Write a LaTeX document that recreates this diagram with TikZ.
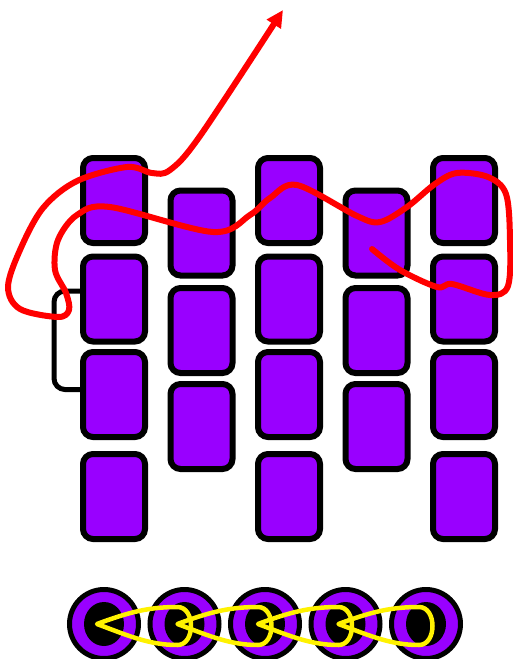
\documentclass[tikz,border=0pt]{standalone}
\usetikzlibrary{positioning, arrows.meta, calc}

\definecolor{boxpurple}{RGB}{153,0,255}

\begin{document}
\begin{tikzpicture}[
  x=1pt, y=-1pt,
  cell/.style={rectangle, draw=black, line width=6pt, rounded corners=10pt, fill=boxpurple, minimum width=62pt, minimum height=85pt, inner sep=0pt},
  ring/.style={circle, draw=black, line width=5pt, fill=boxpurple, minimum size=69pt, inner sep=0pt},
  bracket/.style={draw=black, line width=5pt, rounded corners=11pt},
  loopline/.style={draw=yellow, line width=4.5pt, line join=round},
  scribble/.style={draw=red, line width=6pt, line cap=round, line join=round, -{Triangle[length=17pt,width=16pt]}}
]
  \useasboundingbox (0,0) rectangle (513,659);

  % tall columns (four cells) and short columns (three cells)
  \foreach \c/\x in {1/114, 3/289, 5/464}
    \foreach \r/\y in {1/200.5, 2/299, 3/394.5, 4/496.5}
      \node[cell] (b\c\r) at (\x,\y) {};
  \foreach \c/\x in {2/201.5, 4/376.5}
    \foreach \r/\y in {1/233, 2/330.5, 3/426.5}
      \node[cell] (b\c\r) at (\x,\y) {};

  % bracket joining two cells of the first column
  \draw[bracket] ([yshift=8pt]b12.west) -| ([xshift=-26pt,yshift=5pt]b13.west) -- ([yshift=5pt]b13.west);

  % rings along the bottom
  \foreach \i in {0,...,4} {
    \node[ring] (r\i) at (104+80.5*\i,624) {};
    \fill[black] (r\i) ellipse[x radius=20, y radius=22];
  }
  \foreach \i/\j in {0/1, 1/2, 2/3, 3/4}
    \draw[loopline] ($(r\i)+(-7,0)$) .. controls ($(r\i)+(25,-12)$) and ($(r\j)+(-35,-17)$) .. ($(r\j)+(-7,-17)$)
      .. controls ($(r\j)+(11,-17)$) and ($(r\j)+(11,21)$) .. ($(r\j)+(-7,21)$)
      .. controls ($(r\j)+(-35,21)$) and ($(r\i)+(25,12)$) .. cycle;

  % red scribble ending in the arrow
  \draw[scribble] plot[smooth, tension=0.55] coordinates {
    (372,249) (400,270) (437,287) (452,284) (490,295) (508,286) (510,240) (506,194)
    (488,177) (457,173) (435,184) (407,207) (380,222) (357,216) (297,185) (270,198)
    (250,215) (213,232) (110,207) (77,215) (58,240) (55,270) (66,293) (69,310)
    (58,317) (20,309) (8,287) (20,250) (43,208) (77,181) (127,167) (152,173)
    (170,170) (200,136) (283,10)};
\end{tikzpicture}
\end{document}
